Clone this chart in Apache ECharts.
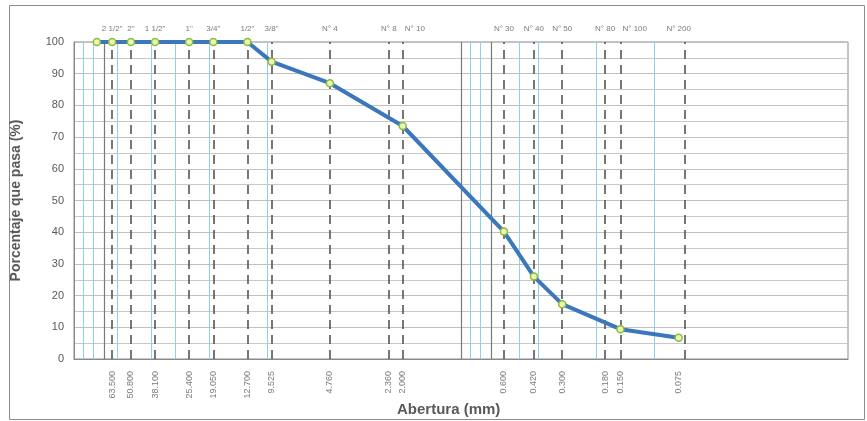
<!DOCTYPE html>
<html>
<head>
<meta charset="utf-8">
<script src="https://cdn.jsdelivr.net/npm/echarts@6/dist/echarts.min.js"></script>
<style>html,body{margin:0;padding:0;background:#fff}#c{width:867px;height:421px}</style>
</head>
<body>
<div id="c"></div>
<script>
const sieveSizes = [63.5, 50.8, 38.1, 25.4, 19.05, 12.7, 9.525, 4.76, 2.36, 2.0, 0.6, 0.42, 0.3, 0.18, 0.15, 0.075];
const sieveNames = ['2 1/2"', '2"', '1 1/2"', '1"', '3/4"', '1/2"', '3/8"', 'N° 4', 'N° 8', 'N° 10', 'N° 30', 'N° 40', 'N° 50', 'N° 80', 'N° 100', 'N° 200'];
const openingLabels = ['63.500', '50.800', '38.100', '25.400', '19.050', '12.700', '9.525', '4.760', '2.360', '2.000', '0.600', '0.420', '0.300', '0.180', '0.150', '0.075'];
const sampleSizes = [76.2, 63.5, 50.8, 38.1, 25.4, 19.05, 12.7, 9.525, 4.76, 2.0, 0.6, 0.42, 0.3, 0.15, 0.075];
const passing = [100, 100, 100, 100, 100, 100, 100, 93.8, 87.0, 73.5, 40.2, 26.0, 17.3, 9.4, 6.7];
const lightGridSizes = [90, 80, 60, 40, 30, 20, 10, 0.9, 0.8, 0.5, 0.4, 0.2, 0.1];
const darkGridSizes = [70, 1, 0.7];
const yTicks = [0, 10, 20, 30, 40, 50, 60, 70, 80, 90, 100];
const leftAlignedNames = ['N° 10', 'N° 100'];

const chart = echarts.init(document.getElementById('c'), null, {renderer: 'canvas'});
const txt = '#595959';
const font = 'Liberation Sans, Arial, sans-serif';

const markData = []
  .concat(lightGridSizes.map(v => ({xAxis: v, lineStyle: {color: '#8fd0e8', width: 1, type: 'solid'}})))
  .concat(darkGridSizes.map(v => ({xAxis: v, lineStyle: {color: '#7a7a7a', width: 1.2, type: 'solid'}})))
  .concat(sieveSizes.map(v => ({xAxis: v, lineStyle: {color: '#555555', width: 1.6, type: [9, 6]}})));

chart.setOption({
  animation: false,
  backgroundColor: '#ffffff',
  grid: {left: 74, right: 19, top: 42, bottom: 62, show: true, borderColor: '#8a8a8a', borderWidth: 1},
  graphic: [
    {type: 'rect', left: 7, top: 3, shape: {width: 855, height: 414}, style: {fill: 'none', stroke: '#8c8c8c', lineWidth: 1}, silent: true, z: -10},
    {type: 'text', left: 397, top: 402, style: {text: 'Abertura (mm)', fill: txt, font: 'bold 15px ' + font}}
  ],
  xAxis: {
    type: 'log', logBase: 10, min: 0.01, max: 100, inverse: true,
    axisLine: {show: true, lineStyle: {color: '#8a8a8a'}},
    axisTick: {show: false}, axisLabel: {show: false},
    splitLine: {show: false}, minorSplitLine: {show: false}
  },
  yAxis: {
    type: 'value', min: 0, max: 100, interval: 10,
    name: 'Porcentaje que pasa (%)', nameLocation: 'middle', nameGap: 51,
    nameTextStyle: {color: txt, fontSize: 14, fontWeight: 'bold', fontFamily: font},
    axisLine: {show: true, lineStyle: {color: '#8a8a8a'}},
    axisTick: {show: false},
    axisLabel: {color: txt, fontSize: 11, fontFamily: font, margin: 10,
      formatter: v => yTicks.includes(v) ? String(v) : ''},
    splitLine: {show: true, lineStyle: {color: '#c0c0c0', width: 1}},
    minorTick: {show: false, splitNumber: 2},
    minorSplitLine: {show: true, lineStyle: {color: '#c8c8c8', width: 1}}
  },
  series: [
    {
      type: 'scatter', name: 'top', symbolSize: 0, silent: true, z: 3,
      data: sieveSizes.map((s, i) => {
        const item = {value: [s, 100]};
        if (leftAlignedNames.includes(sieveNames[i])) {
          item.label = {align: 'left', offset: [2, 0]};
        }
        return item;
      }),
      label: {show: true, position: 'top', distance: 9, color: txt, fontSize: 8, fontFamily: font,
        formatter: p => sieveNames[p.dataIndex]},
      markLine: {silent: true, symbol: 'none', label: {show: false}, data: markData, z: 1}
    },
    {
      type: 'scatter', name: 'bottom', symbolSize: 0, silent: true, z: 3,
      data: sieveSizes.map(s => [s, 0]),
      label: {show: true, position: 'bottom', distance: 12, rotate: 90, align: 'right', verticalAlign: 'middle',
        color: txt, fontSize: 9, fontFamily: font,
        formatter: p => openingLabels[p.dataIndex]}
    },
    {
      type: 'line', name: 'Granulometría', z: 10,
      data: sampleSizes.map((s, i) => [s, passing[i]]),
      lineStyle: {color: '#3c77bc', width: 4},
      symbol: 'circle', symbolSize: 7, showSymbol: true,
      itemStyle: {color: '#eaf6b2', borderColor: '#8dbb3c', borderWidth: 1.5}
    }
  ]
});
</script>
</body>
</html>
